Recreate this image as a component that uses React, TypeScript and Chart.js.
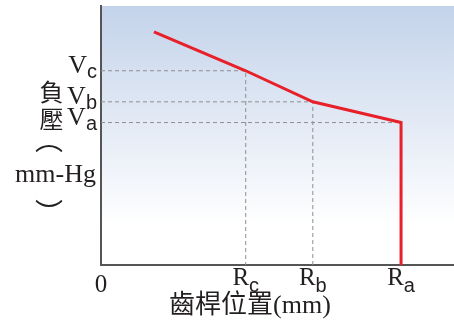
import { useEffect, useRef } from "react";
import { Chart, registerables } from "chart.js";

Chart.register(...registerables);

// Pump vacuum curve against rack position
const rackPositions = [1.5, 4.1, 6.0, 8.5, 8.5];
const vacuumValues = [9.0, 7.5, 6.3, 5.5, 0];

// Marked operating points (c, b, a)
const markLetters = ["c", "b", "a"];
const markPositions = [4.1, 6.0, 8.5];
const markVacuums = [7.5, 6.3, 5.5];

const xTitle = "齒桿位置(mm)";
const yTitleChars = ["負", "壓"];
const yUnit = "mm-Hg";
const yBrackets = ["︵", "︶"];

const SERIF = '"Liberation Serif", "Times New Roman", serif';
const SANS = '"Liberation Sans", Arial, sans-serif';
const CJK = '"Noto Sans CJK TC", "Noto Sans CJK SC", sans-serif';
const TEXT = "#231f20";

const labelsPlugin = {
  id: "curveLabels",
  beforeDraw(chart: any) {
    const { ctx, chartArea: a } = chart;
    const g = ctx.createLinearGradient(0, a.top, 0, a.bottom);
    g.addColorStop(0, "#c3d3ea");
    g.addColorStop(0.45, "#e3eaf5");
    g.addColorStop(0.85, "#ffffff");
    g.addColorStop(1, "#ffffff");
    ctx.save();
    ctx.fillStyle = g;
    ctx.fillRect(a.left, a.top, a.right - a.left, a.bottom - a.top);
    ctx.restore();
  },
  afterDraw(chart: any) {
    const { ctx, chartArea: a, scales } = chart;
    const xs = scales.x;
    const ys = scales.y;
    ctx.save();
    ctx.fillStyle = TEXT;
    ctx.textBaseline = "alphabetic";

    // V labels on the vacuum axis
    markVacuums.forEach((v, i) => {
      const py = ys.getPixelForValue(v);
      const right = a.left - 4;
      ctx.font = `20px ${SANS}`;
      ctx.textAlign = "right";
      const sw = ctx.measureText(markLetters[i]).width;
      ctx.fillText(markLetters[i], right, py + 7);
      ctx.font = `26px ${SERIF}`;
      ctx.fillText("V", right - sw, py + 2.5);
    });

    // R labels on the position axis
    markPositions.forEach((r, i) => {
      const px = xs.getPixelForValue(r);
      ctx.font = `25px ${SERIF}`;
      const rw = ctx.measureText("R").width;
      ctx.font = `20px ${SANS}`;
      const sw = ctx.measureText(markLetters[i]).width;
      const start = px - (rw + sw) / 2;
      ctx.textAlign = "left";
      ctx.font = `25px ${SERIF}`;
      ctx.fillText("R", start, a.bottom + 20);
      ctx.font = `20px ${SANS}`;
      ctx.fillText(markLetters[i], start + rw, a.bottom + 27);
    });

    // origin
    ctx.textAlign = "center";
    ctx.font = `25px ${SERIF}`;
    ctx.fillText("0", xs.getPixelForValue(0), a.bottom + 27);

    // x-axis title
    ctx.font = `26px ${SERIF}, ${CJK}`;
    ctx.fillText(xTitle, 250, a.bottom + 48);

    // y-axis title, stacked vertically
    ctx.font = `24px ${CJK}`;
    ctx.textBaseline = "middle";
    yTitleChars.forEach((ch, i) => {
      ctx.fillText(ch, 51.5, 92 + i * 27);
    });
    ctx.textBaseline = "alphabetic";
    ctx.font = `26px ${SERIF}`;
    ctx.fillText(yUnit, 55.5, 182);

    // vertical-form brackets around the unit
    ctx.font = `28px ${CJK}`;
    ctx.textBaseline = "middle";
    ctx.fillText(yBrackets[0], 49, 139);
    ctx.fillText(yBrackets[1], 49, 213);
    ctx.restore();
  },
};

export default function App() {
  const ref = useRef<HTMLCanvasElement | null>(null);

  useEffect(() => {
    if (!ref.current) return;
    const guides = markPositions.map((r, i) => ({
      data: [
        { x: 0, y: markVacuums[i] },
        { x: r, y: markVacuums[i] },
        { x: r, y: 0 },
      ],
      borderColor: "#8e8e8e",
      borderWidth: 1,
      borderDash: [4, 3],
      pointRadius: 0,
      order: 1,
    }));
    const chart = new Chart(ref.current, {
      type: "line",
      data: {
        datasets: [
          {
            data: rackPositions.map((x, i) => ({ x, y: vacuumValues[i] })),
            borderColor: "#e8202a",
            borderWidth: 3,
            pointRadius: 0,
            tension: 0,
            order: 0,
            clip: false as any,
          },
          ...guides,
        ],
      },
      options: {
        responsive: false,
        animation: false,
        layout: { padding: { left: 101, top: 6, right: 0, bottom: 61 } },
        plugins: { legend: { display: false }, tooltip: { enabled: false } },
        scales: {
          x: {
            type: "linear",
            min: 0,
            max: 10,
            grid: { display: false, drawTicks: false },
            ticks: { display: false },
            border: { display: true, color: "#555555", width: 2 },
          },
          y: {
            type: "linear",
            min: 0,
            max: 10,
            grid: { display: false, drawTicks: false },
            ticks: { display: false },
            border: { display: true, color: "#555555", width: 2 },
          },
        },
      },
      plugins: [labelsPlugin],
    });
    return () => chart.destroy();
  }, []);

  return (
    <div style={{ position: "fixed", left: 0, top: 0, width: 454, height: 326, background: "#fff" }}>
      <canvas ref={ref} width={454} height={326} />
    </div>
  );
}
